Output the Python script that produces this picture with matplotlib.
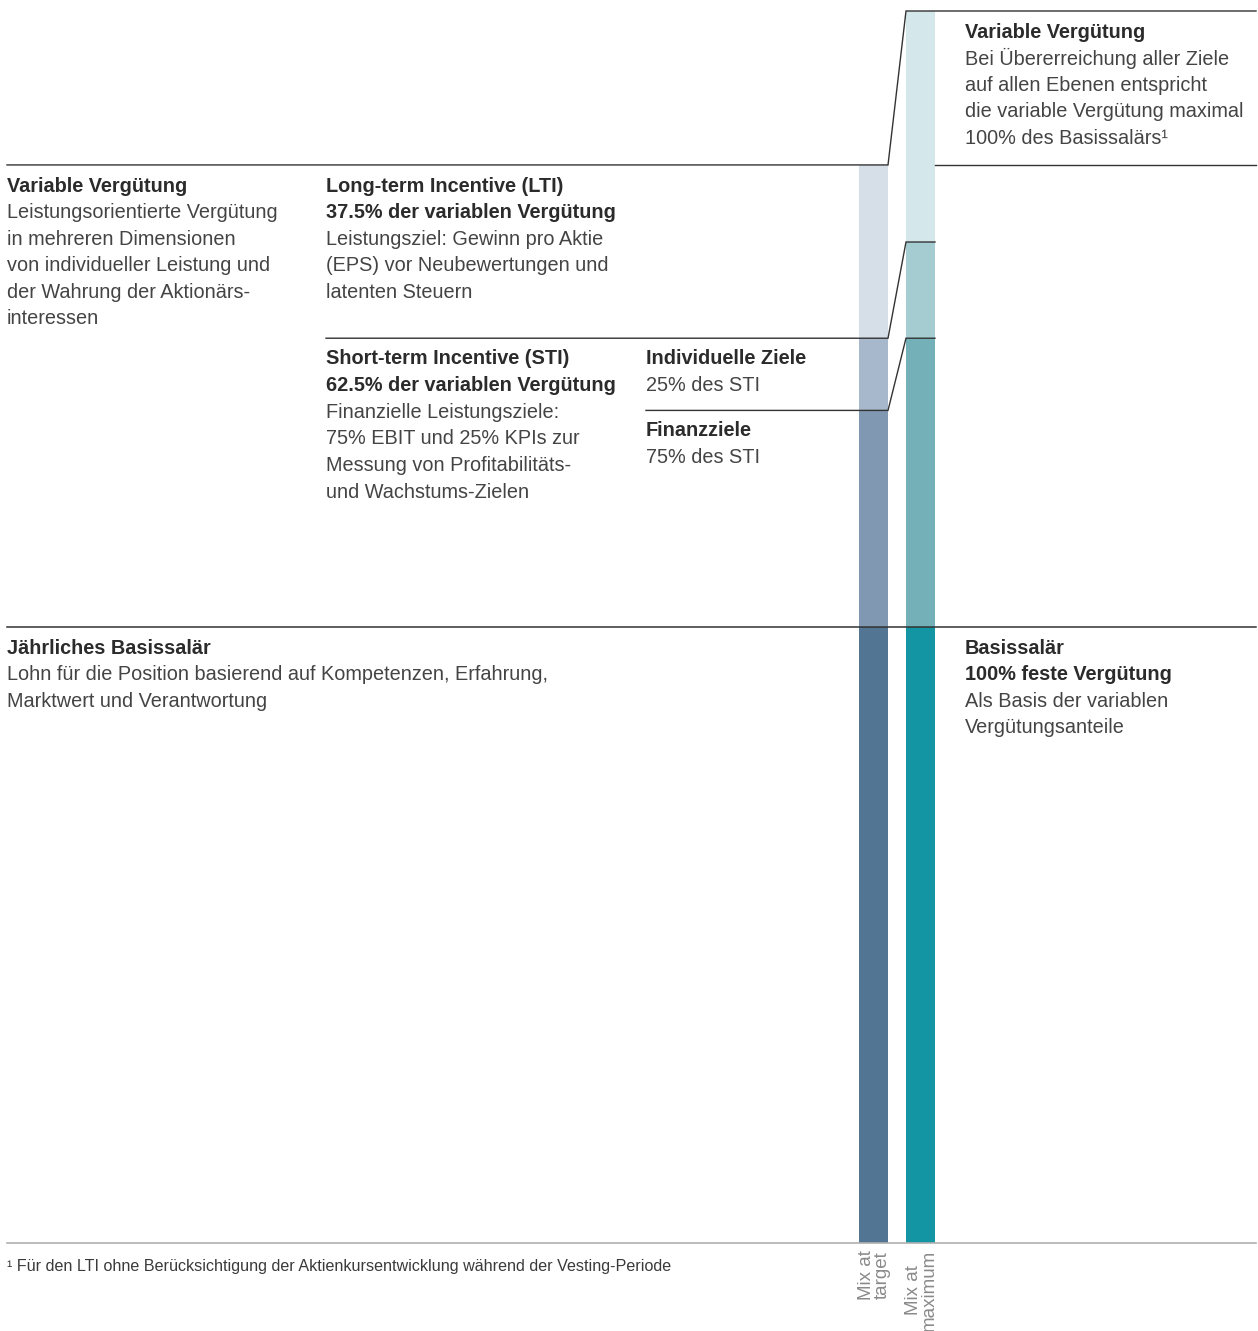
import matplotlib.pyplot as plt
import numpy as np

W, H = 1258, 1331

# stacked components in % of annual base salary
components = ["Basissalär", "STI Finanzziele", "STI Individuelle Ziele", "LTI"]
mix_target = [100.0, 35.16, 11.72, 28.13]
mix_maximum = [100.0, 46.88, 15.62, 37.5]
bar_labels = ["Mix at\ntarget", "Mix at\nmaximum"]

colors_target = ["#517592", "#8198b3", "#a8b8cc", "#d6dee8"]
colors_maximum = ["#1495a3", "#73b0b8", "#a5cdd1", "#d4e8eb"]

plt.rcParams["font.family"] = ["Liberation Sans", "DejaVu Sans"]

fig = plt.figure(figsize=(W / 100, H / 100), dpi=100)
ax = fig.add_axes([0, 0, 1, 1])

# 100 % of base = 616 px, zero line at pixel row 1243
px_per_unit = 6.16
ax.set_xlim(0, W)
ax.set_ylim((1243 - H) / px_per_unit, 1243 / px_per_unit)
ax.axis("off")

bar_x = [873.5, 920.5]
bar_w = 29
for xc, vals, cols in [(bar_x[0], mix_target, colors_target),
                       (bar_x[1], mix_maximum, colors_maximum)]:
    bottoms = np.concatenate([[0], np.cumsum(vals)[:-1]])
    ax.bar(xc, vals, bottom=bottoms, width=bar_w, color=cols, linewidth=0)

cum_t = np.cumsum(mix_target)
cum_m = np.cumsum(mix_maximum)
t_right = bar_x[0] + bar_w / 2
m_left = bar_x[1] - bar_w / 2
m_right = bar_x[1] + bar_w / 2
lc = "#333333"
lw = 1.0

# connectors between target and maximum bars
for x0, lvl_t, lvl_m, x_end in [(7, cum_t[3], cum_m[3], 1256),
                                 (326, cum_t[2], cum_m[2], m_right),
                                 (646, cum_t[1], cum_m[1], m_right)]:
    ax.plot([x0, t_right, m_left, x_end], [lvl_t, lvl_t, lvl_m, lvl_m],
            color=lc, lw=lw, solid_joinstyle="miter")
ax.plot([m_right, 1256], [cum_t[3], cum_t[3]], color=lc, lw=lw)
ax.plot([7, 1256], [cum_t[0], cum_t[0]], color=lc, lw=1.1)
ax.plot([7, 1256], [0, 0], color="#b0b0b0", lw=1.2)

# rotated bar labels
for xc, lab in zip(bar_x, bar_labels):
    ax.text(xc + 1, -1.1, lab, rotation=90, ha="center", va="top",
            fontsize=13.5, color="#8a8a8a", linespacing=0.9)


def block(x, y, bold_lines, lines, step=26.6):
    k = 0
    for t in bold_lines:
        fig.text(x / W, 1 - (y + k * step) / H, t, fontsize=14.3,
                 fontweight="bold", color="#2b2b2b", va="center")
        k += 1
    for t in lines:
        fig.text(x / W, 1 - (y + k * step) / H, t, fontsize=14.3,
                 color="#444444", va="center")
        k += 1


block(7, 186, ["Variable Vergütung"],
      ["Leistungsorientierte Vergütung", "in mehreren Dimensionen",
       "von individueller Leistung und", "der Wahrung der Aktionärs-",
       "interessen"])
block(326, 186, ["Long-term Incentive (LTI)", "37.5% der variablen Vergütung"],
      ["Leistungsziel: Gewinn pro Aktie", "(EPS) vor Neubewertungen und",
       "latenten Steuern"])
block(326, 359, ["Short-term Incentive (STI)", "62.5% der variablen Vergütung"],
      ["Finanzielle Leistungsziele:", "75% EBIT und 25% KPIs zur",
       "Messung von Profitabilitäts-", "und Wachstums-Zielen"])
block(646, 359, ["Individuelle Ziele"], ["25% des STI"])
block(646, 431, ["Finanzziele"], ["75% des STI"])
block(7, 648, ["Jährliches Basissalär"],
      ["Lohn für die Position basierend auf Kompetenzen, Erfahrung,",
       "Marktwert und Verantwortung"])
block(965, 648, ["Basissalär", "100% feste Vergütung"],
      ["Als Basis der variablen", "Vergütungsanteile"])
block(965, 32, ["Variable Vergütung"],
      ["Bei Übererreichung aller Ziele", "auf allen Ebenen entspricht",
       "die variable Vergütung maximal", "100% des Basissalärs¹"])

fig.text(7 / W, 1 - 1267 / H,
         "¹ Für den LTI ohne Berücksichtigung der Aktienkursentwicklung während der Vesting-Periode",
         fontsize=11.6, color="#3a3a3a", va="center")

fig.savefig("out.png", dpi=100)
